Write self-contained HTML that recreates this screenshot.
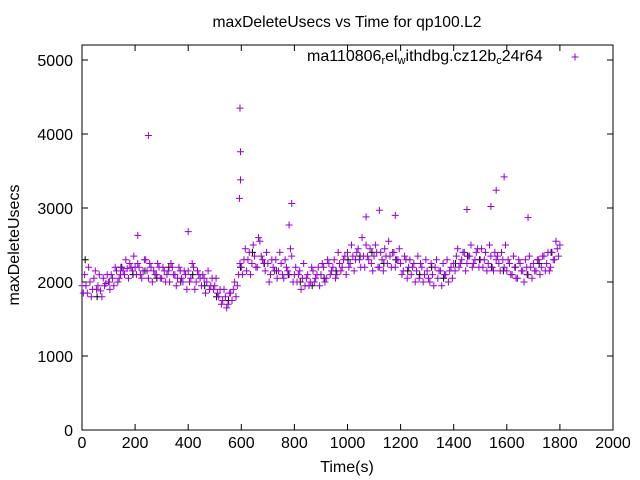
<!DOCTYPE html>
<html><head><meta charset="utf-8"><style>
body{margin:0;background:#fff}
svg{display:block;font-family:"Liberation Sans",Arial,sans-serif}
</style></head><body>
<svg id="chart" width="640" height="480" viewBox="0 0 640 480" xmlns="http://www.w3.org/2000/svg">
<rect width="640" height="480" fill="#fff"/>
<text x="347" y="27" font-size="16" text-anchor="middle" textLength="269" lengthAdjust="spacingAndGlyphs">maxDeleteUsecs vs Time for qp100.L2</text>
<text transform="translate(19,245) rotate(-90)" font-size="16" text-anchor="middle">maxDeleteUsecs</text>
<text x="347" y="472" font-size="16" text-anchor="middle">Time(s)</text>
<g id="axes"></g>
<g id="marks"></g>
<g>
<text x="307" y="61" font-size="16">ma110806<tspan font-size="11" dy="3">r</tspan><tspan dy="-3">el</tspan><tspan font-size="11" dy="3">w</tspan><tspan dy="-3">ithdbg.cz12b</tspan><tspan font-size="11" dy="3">c</tspan><tspan dy="-3">24r64</tspan></text>
<path d="M571.5,57h7M575,53.5v7" stroke="#9400d3" stroke-width="1"/>
</g>
</svg>
<script>
const xTicks=[0,200,400,600,800,1000,1200,1400,1600,1800,2000];
const yTicks=[0,1000,2000,3000,4000,5000];
const seriesA=[1950,2100,1850,2000,1900,2150,1950,1880,2050,1980,
2000,2100,1950,2150,2050,2200,2100,2180,2250,2150,
2200,2250,2100,2150,2300,2050,2200,2150,2100,2200,
2050,2150,2100,2000,2200,2100,2050,2150,2000,2100,
2150,2050,2200,2000,2100,1950,2050,2000,1900,2050,
1950,1850,1900,1750,1800,1700,1850,1900,1800,2100,
2200,2300,2150,2400,2250,2350,2200,2550,2300,2150,
2250,2100,2200,2300,2150,2250,2050,2200,2100,2350,
2100,2000,2150,2050,1950,2100,2000,2150,2050,2200,
2100,2200,2050,2250,2150,2300,2100,2250,2200,2350,
2400,2250,2350,2300,2450,2200,2350,2500,2300,2250,
2350,2400,2200,2300,2450,2250,2350,2400,2200,2300,
2250,2150,2300,2200,2100,2250,2150,2050,2200,2100,
2150,2000,2100,2200,2050,2150,2250,2100,2000,2200,
2250,2350,2200,2300,2400,2250,2350,2200,2300,2450,
2300,2200,2400,2250,2350,2150,2300,2250,2400,2200,
2150,2250,2100,2200,2050,2250,2150,2300,2100,2200,
2250,2150,2300,2200,2350,2250,2150,2400,2300,2450,2500];
const seriesB=[1850,1950,2200,1800,2050,1900,2100,1800,1950,2100,
1900,2050,2200,2000,2100,2150,2300,2050,2200,2350,
2100,2200,2050,2300,2150,2250,2000,2100,2250,2050,
2200,2000,2150,2250,2100,1950,2200,2050,2150,1900,
2000,2250,1900,2150,2050,2100,1850,2150,1950,1900,
2050,1800,1700,1900,1650,1850,1750,2000,1950,2250,
2100,2450,2300,2100,2500,2200,2600,2350,2250,2400,
2000,2300,2150,2050,2400,2100,2300,2150,2450,2000,
2200,2100,1900,2250,2050,1950,2200,2000,2100,1950,
2250,2000,2300,2100,2200,2050,2400,2150,2300,2100,
2200,2500,2150,2400,2300,2600,2200,2350,2450,2150,
2500,2200,2400,2150,2350,2550,2200,2400,2300,2450,
2100,2350,2050,2300,2200,2000,2350,2250,2000,2300,
2050,2250,1950,2300,2150,1950,2100,2300,2150,2050,
2150,2450,2250,2400,2150,2350,2500,2250,2400,2200,
2450,2300,2150,2500,2200,2400,2350,2150,2300,2500,
2300,2100,2350,2050,2300,2150,2000,2200,2350,2050,
2150,2300,2100,2350,2150,2400,2200,2300,2550,2350];
const outlierTimes=[250,595,597,597,593,400,210,780,790,1120,1450,1540,1560,1590,1680,1070,1180];
const outlierValues=[3980,4350,3760,3380,3130,2680,2630,2770,3060,2970,2980,3020,3240,3420,2870,2880,2900];
const blackTimes=[12,57,102,147,192,237,282,327,372,417,462,507,552,597,642,687,732,777,822,867,912,957,1002,1047,1092,1137,1182,1227,1272,1317,1362,1407,1452,1497,1542,1587,1632,1677,1722,1767];
const blackValues=[2300,1800,2000,2200,2100,2150,2050,2200,2000,2100,1950,1800,1750,2200,2400,2250,2150,2100,2000,1950,2050,2150,2300,2350,2400,2250,2300,2150,2100,2200,2050,2250,2350,2300,2200,2150,2200,2100,2250,2400];
const L=82,R=613,T=45,B=430;
function sx(v){return L+v/2000*(R-L);}
function syv(v){return B-v/5000*370;}
const NS="http://www.w3.org/2000/svg";
const axes=document.getElementById('axes');
const marks=document.getElementById('marks');
function mk(tag,attrs,parent){const e=document.createElementNS(NS,tag);for(const k in attrs)e.setAttribute(k,attrs[k]);parent.appendChild(e);return e;}
const frame=mk('rect',{x:L,y:T,width:R-L,height:B-T,fill:'none',stroke:'#000','stroke-width':1},axes);


xTicks.forEach(v=>{
 const x=sx(v);
 const t=mk('path',{d:`M${x},${B}v-6M${x},${T}v6`,stroke:'#000'},axes);
 
 
 const l=mk('text',{x:x,y:B+18,'font-size':16,'text-anchor':'middle'},axes);l.textContent=v;
 
 
});
yTicks.forEach(v=>{
 const y=syv(v);
 const t=mk('path',{d:`M${L},${y}h6M${R},${y}h-6`,stroke:'#000'},axes);
 
 
 const l=mk('text',{x:L-9,y:y+6,'font-size':16,'text-anchor':'end'},axes);l.textContent=v;
 
 
});
function plus(t,v,color){
 const x=sx(t),y=syv(v);
 const p=mk('path',{d:`M${x-3.5},${y}h7M${x},${y-3.5}v7`,stroke:color,'stroke-width':1,fill:'none'},marks);
 
 
}
blackTimes.forEach((t,i)=>plus(t,blackValues[i],'#000'));
seriesA.forEach((v,i)=>plus(i*10,v,'#9400d3'));
seriesB.forEach((v,i)=>plus(i*10+5,v,'#9400d3'));
outlierTimes.forEach((t,i)=>plus(t,outlierValues[i],'#9400d3'));
</script>
</body></html>
